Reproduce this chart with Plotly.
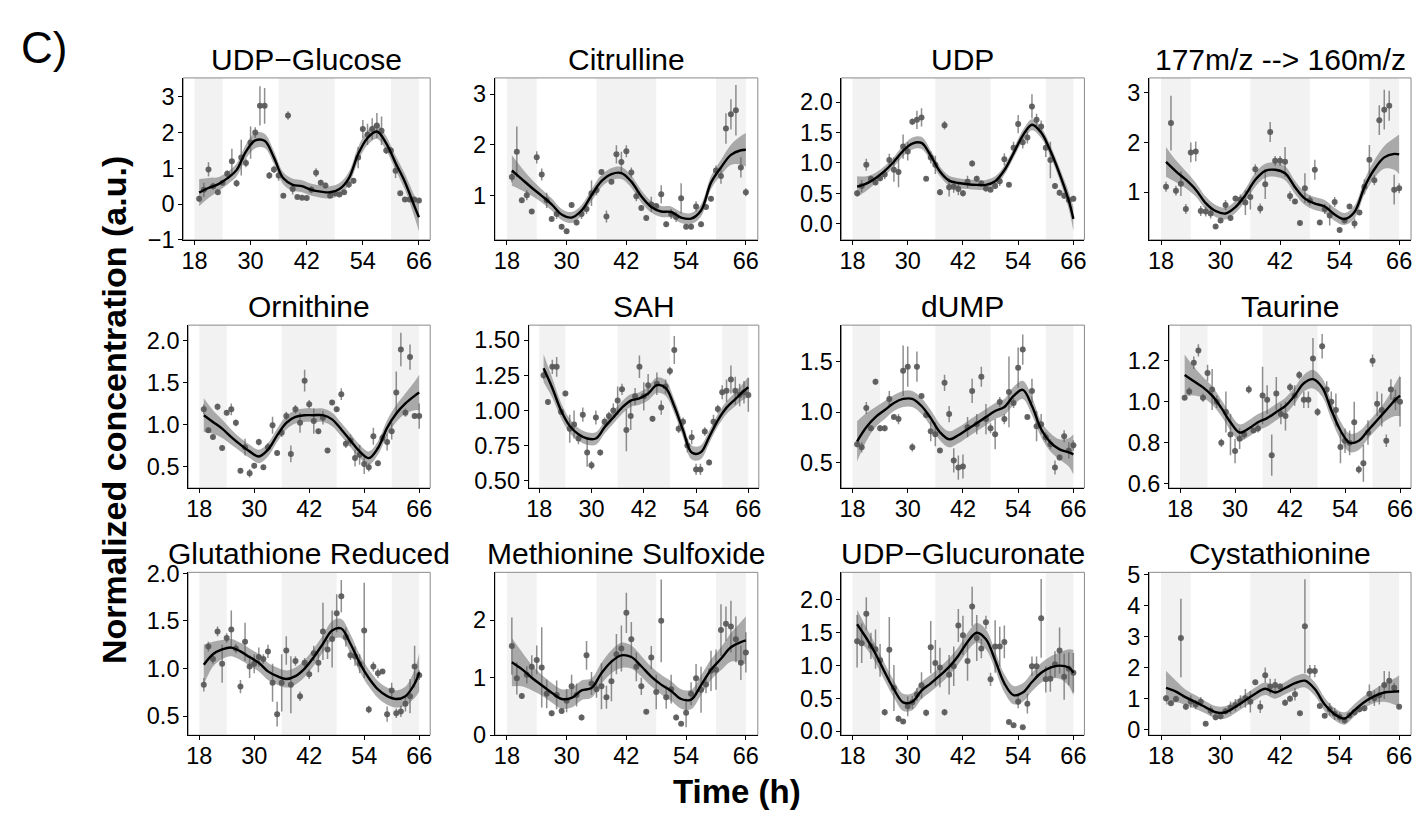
import plotly.graph_objects as go

FONT = "Liberation Sans"
W, H = 1425, 818

# ---------------- data ----------------
hours = list(range(19, 67))                      # sampling times (h)
fit_hours = list(range(19, 66, 2)) + [66]        # knots of the smooth fit
band_starts = [18, 36, 60]                       # shaded (dark-phase) bands
band_ends = [24, 48, 66]
x_tickvals = [18, 30, 42, 54, 66]
x_ticktext = ["18", "30", "42", "54", "66"]

titles = ["UDP−Glucose", "Citrulline", "UDP", "177m/z --> 160m/z",
          "Ornithine", "SAH", "dUMP", "Taurine",
          "Glutathione Reduced", "Methionine Sulfoxide", "UDP−Glucuronate", "Cystathionine"]

udp_glucose_mean = [0.15, 0.4, 0.97, 0.5, 0.33, 0.6, 0.85, 1.2, 0.58, 1.3, 1.15, 1.72, 2.0, 2.75, 2.75, 0.8,
                    0.97, 0.8, 0.23, 2.48, 0.42, 0.2, 0.18, 0.17, 0.4, 0.88, 0.6, 0.52, 0.23, 0.3, 0.27, 0.33,
                    0.55, 0.65, 1.3, 2.1, 1.95, 2.1, 2.2, 2.05, 1.5, 1.5, 0.93, 0.3, 0.13, 0.13, 0.13, 0.1]
udp_glucose_err = [0.08, 0.2, 0.2, 0.1, 0.07, 0.07, 0.1, 0.35, 0.1, 0.5, 0.12, 0.45, 0.15, 0.55, 0.5, 0.1,
                   0.1, 0.15, 0.05, 0.12, 0.15, 0.05, 0.05, 0.05, 0.1, 0.12, 0.08, 0.08, 0.05, 0.05, 0.05, 0.05,
                   0.1, 0.08, 0.3, 0.25, 0.3, 0.3, 0.35, 0.4, 0.1, 0.1, 0.2, 0.05, 0.05, 0.05, 0.05, 0.05]
udp_glucose_fit = [0.32, 0.45, 0.55, 0.72, 0.95, 1.47, 1.78, 1.77, 1.3, 0.72, 0.54, 0.5, 0.4, 0.35, 0.33,
                   0.42, 0.72, 1.4, 1.85, 2.03, 1.7, 1.15, 0.62, -0.05, -0.37]
udp_glucose_se = [0.38, 0.28, 0.2, 0.18, 0.18, 0.2, 0.22, 0.2, 0.18, 0.17, 0.17, 0.17, 0.17, 0.17, 0.17,
                  0.17, 0.18, 0.2, 0.2, 0.2, 0.2, 0.2, 0.22, 0.3, 0.4]

citrulline_mean = [1.36, 1.86, 0.9, 1.0, 0.68, 1.75, 1.41, 0.9, 0.53, 0.63, 0.38, 0.29, 0.81, 0.46, 0.63, 0.73,
                   1.04, 1.1, 1.46, 0.58, 1.27, 1.81, 1.66, 1.87, 1.45, 0.98, 0.75, 0.55, 0.82, 0.79, 1.02, 0.43,
                   0.63, 0.57, 0.94, 0.38, 0.38, 0.78, 0.43, 0.77, 0.93, 1.49, 1.38, 2.32, 2.6, 2.68, 1.55, 1.06]
citrulline_err = [0.1, 0.5, 0.05, 0.1, 0.05, 0.12, 0.12, 0.15, 0.05, 0.1, 0.05, 0.05, 0.05, 0.05, 0.1, 0.1,
                  0.25, 0.1, 0.05, 0.12, 0.05, 0.18, 0.2, 0.12, 0.1, 0.1, 0.05, 0.05, 0.15, 0.05, 0.18, 0.05,
                  0.1, 0.1, 0.3, 0.05, 0.05, 0.1, 0.05, 0.05, 0.05, 0.1, 0.15, 0.3, 0.3, 0.5, 0.2, 0.08]
citrulline_fit = [1.49, 1.32, 1.15, 0.99, 0.82, 0.62, 0.56, 0.7, 1.0, 1.28, 1.42, 1.44, 1.27, 0.98, 0.77,
                  0.68, 0.67, 0.56, 0.54, 0.7, 1.25, 1.55, 1.8, 1.89, 1.9]
citrulline_se = [0.3, 0.22, 0.16, 0.13, 0.12, 0.11, 0.11, 0.11, 0.12, 0.12, 0.12, 0.12, 0.12, 0.12, 0.11,
                 0.11, 0.11, 0.11, 0.11, 0.12, 0.13, 0.15, 0.2, 0.28, 0.33]

udp_mean = [0.5, 0.62, 0.97, 0.74, 0.68, 0.75, 0.81, 1.05, 0.89, 0.85, 1.27, 1.19, 1.68, 1.71, 1.75, 0.74,
            1.09, 0.97, 0.52, 1.62, 0.6, 0.61, 0.57, 0.5, 0.69, 0.99, 0.74, 0.66, 0.58, 0.56, 0.62, 0.7,
            1.06, 0.64, 1.25, 1.64, 1.34, 1.42, 1.93, 1.71, 1.6, 1.25, 1.05, 0.62, 0.51, 0.46, 0.39, 0.41]
udp_err = [0.05, 0.1, 0.1, 0.05, 0.04, 0.05, 0.08, 0.1, 0.2, 0.25, 0.2, 0.15, 0.05, 0.15, 0.15, 0.03,
           0.1, 0.15, 0.05, 0.07, 0.15, 0.1, 0.1, 0.05, 0.1, 0.05, 0.05, 0.05, 0.05, 0.03, 0.05, 0.08,
           0.1, 0.03, 0.1, 0.15, 0.1, 0.1, 0.2, 0.1, 0.1, 0.15, 0.3, 0.05, 0.05, 0.05, 0.05, 0.05]
udp_fit = [0.61, 0.66, 0.75, 0.87, 1.02, 1.2, 1.32, 1.33, 1.12, 0.86, 0.71, 0.67, 0.65, 0.64, 0.64,
           0.7, 0.88, 1.16, 1.45, 1.63, 1.5, 1.2, 0.82, 0.38, 0.08]
udp_se = [0.17, 0.12, 0.09, 0.08, 0.08, 0.09, 0.1, 0.1, 0.09, 0.08, 0.08, 0.08, 0.08, 0.08, 0.08,
          0.08, 0.08, 0.08, 0.09, 0.09, 0.09, 0.09, 0.1, 0.14, 0.2]

mz177_mean = [1.11, 2.39, 1.03, 1.17, 0.66, 1.8, 1.82, 0.62, 0.61, 0.57, 0.31, 0.43, 0.74, 0.48, 0.87, 0.85,
              0.79, 0.9, 1.46, 0.67, 1.16, 2.21, 1.63, 1.63, 1.61, 0.92, 0.81, 0.38, 1.08, 0.83, 1.45, 0.39,
              0.66, 0.53, 0.8, 0.24, 0.43, 0.71, 0.37, 0.59, 1.11, 1.65, 1.24, 2.45, 2.66, 2.74, 1.05, 1.08]
mz177_err = [0.1, 0.55, 0.1, 0.25, 0.1, 0.2, 0.2, 0.1, 0.1, 0.1, 0.05, 0.05, 0.1, 0.05, 0.05, 0.1,
             0.25, 0.25, 0.1, 0.1, 0.3, 0.2, 0.1, 0.1, 0.3, 0.1, 0.05, 0.05, 0.3, 0.1, 0.2, 0.05,
             0.1, 0.2, 0.1, 0.05, 0.05, 0.05, 0.1, 0.05, 0.15, 0.3, 0.1, 0.3, 0.4, 0.3, 0.3, 0.1]
mz177_fit = [1.61, 1.42, 1.25, 1.05, 0.78, 0.62, 0.57, 0.7, 0.94, 1.25, 1.43, 1.45, 1.38, 1.1, 0.87,
             0.77, 0.71, 0.55, 0.46, 0.6, 1.1, 1.46, 1.7, 1.77, 1.76]
mz177_se = [0.3, 0.22, 0.17, 0.14, 0.13, 0.12, 0.12, 0.12, 0.13, 0.14, 0.14, 0.14, 0.14, 0.13, 0.13,
            0.13, 0.13, 0.13, 0.12, 0.13, 0.15, 0.18, 0.23, 0.32, 0.4]

ornithine_mean = [1.18, 0.93, 0.85, 1.21, 0.72, 1.14, 1.18, 1.02, 0.45, 0.73, 0.42, 0.51, 0.79, 0.49, 0.73, 0.99,
                  0.66, 0.9, 1.1, 0.65, 1.18, 1.02, 1.52, 1.24, 1.04, 0.92, 1.08, 0.69, 1.26, 1.18, 1.36, 0.77,
                  0.81, 0.6, 0.64, 0.53, 0.49, 0.86, 0.54, 0.84, 0.79, 0.92, 1.38, 1.89, 1.14, 1.8, 1.1, 1.1]
ornithine_err = [0.06, 0.03, 0.03, 0.04, 0.03, 0.03, 0.07, 0.04, 0.03, 0.1, 0.05, 0.03, 0.04, 0.03, 0.05, 0.1,
                 0.03, 0.05, 0.05, 0.1, 0.05, 0.12, 0.13, 0.05, 0.15, 0.03, 0.08, 0.03, 0.03, 0.03, 0.07, 0.05,
                 0.07, 0.1, 0.12, 0.12, 0.05, 0.1, 0.03, 0.05, 0.1, 0.1, 0.25, 0.2, 0.05, 0.15, 0.03, 0.15]
ornithine_fit = [1.11, 1.03, 0.95, 0.85, 0.76, 0.68, 0.62, 0.7, 0.87, 1.02, 1.09, 1.11, 1.11, 1.11, 1.06,
                 0.94, 0.81, 0.68, 0.6, 0.72, 0.96, 1.13, 1.25, 1.34, 1.38]
ornithine_se = [0.2, 0.14, 0.11, 0.09, 0.08, 0.08, 0.08, 0.08, 0.08, 0.08, 0.08, 0.08, 0.08, 0.08, 0.08,
                0.08, 0.08, 0.08, 0.08, 0.08, 0.09, 0.1, 0.12, 0.17, 0.21]

sah_mean = [1.25, 1.06, 1.31, 1.31, 0.99, 1.12, 0.87, 0.9, 0.8, 0.97, 0.7, 0.61, 0.95, 0.7, 0.92, 0.96,
            1.0, 1.07, 1.15, 0.86, 0.96, 1.1, 1.31, 1.1, 1.18, 0.94, 1.19, 1.02, 1.17, 1.28, 1.43, 0.87,
            0.92, 0.75, 0.81, 0.58, 0.58, 0.85, 0.63, 0.92, 1.01, 1.13, 1.14, 1.22, 1.14, 1.11, 1.13, 1.11]
sah_err = [0.03, 0.02, 0.05, 0.07, 0.02, 0.02, 0.1, 0.1, 0.04, 0.05, 0.1, 0.03, 0.05, 0.02, 0.03, 0.03,
           0.05, 0.1, 0.04, 0.15, 0.1, 0.06, 0.08, 0.1, 0.08, 0.02, 0.08, 0.05, 0.05, 0.03, 0.1, 0.03,
           0.03, 0.05, 0.05, 0.04, 0.04, 0.03, 0.02, 0.05, 0.03, 0.05, 0.08, 0.1, 0.1, 0.08, 0.08, 0.12]
sah_fit = [1.3, 1.16, 1.0, 0.89, 0.83, 0.8, 0.8, 0.88, 0.95, 1.02, 1.07, 1.085, 1.12, 1.18, 1.16,
           1.03, 0.86, 0.7, 0.7, 0.81, 0.93, 1.02, 1.08, 1.14, 1.165]
sah_se = [0.1, 0.07, 0.055, 0.05, 0.045, 0.045, 0.045, 0.045, 0.045, 0.045, 0.045, 0.045, 0.05, 0.055, 0.055,
          0.05, 0.05, 0.05, 0.05, 0.045, 0.045, 0.045, 0.05, 0.06, 0.075]

dump_mean = [0.68, 0.65, 1.04, 0.84, 1.3, 0.84, 0.84, 1.13, 0.95, 0.93, 1.41, 1.45, 0.65, 1.45, 1.16, 0.97,
             0.81, 0.78, 0.62, 1.29, 0.98, 0.52, 0.45, 0.46, 0.85, 1.21, 0.88, 1.35, 0.93, 0.84, 0.78, 1.1,
             0.93, 1.2, 1.09, 1.44, 1.62, 0.95, 1.21, 0.86, 0.88, 0.75, 0.68, 0.45, 0.55, 0.76, 0.62, 0.67]
dump_err = [0.03, 0.05, 0.06, 0.03, 0.03, 0.03, 0.03, 0.08, 0.02, 0.05, 0.25, 0.2, 0.04, 0.15, 0.02, 0.03,
            0.1, 0.12, 0.02, 0.08, 0.08, 0.12, 0.12, 0.12, 0.1, 0.12, 0.1, 0.1, 0.15, 0.05, 0.15, 0.05,
            0.05, 0.35, 0.05, 0.2, 0.15, 0.02, 0.12, 0.15, 0.1, 0.05, 0.05, 0.07, 0.03, 0.06, 0.08, 0.05]
dump_fit = [0.71, 0.85, 0.95, 1.02, 1.09, 1.13, 1.13, 1.06, 0.94, 0.8, 0.73, 0.77, 0.83, 0.89, 0.95,
            1.01, 1.05, 1.16, 1.22, 1.06, 0.83, 0.7, 0.63, 0.6, 0.58]
dump_se = [0.2, 0.14, 0.1, 0.09, 0.08, 0.08, 0.08, 0.08, 0.08, 0.08, 0.08, 0.08, 0.08, 0.08, 0.08,
           0.08, 0.08, 0.09, 0.09, 0.09, 0.08, 0.09, 0.1, 0.14, 0.2]

taurine_mean = [1.02, 1.05, 1.19, 1.25, 1.02, 1.14, 1.06, 1.0, 0.8, 0.95, 0.84, 0.76, 0.82, 0.84, 1.06, 0.86,
                0.87, 1.03, 1.01, 0.74, 1.04, 0.94, 0.93, 1.07, 1.03, 1.13, 1.01, 1.01, 1.21, 0.95, 1.27, 1.06,
                1.0, 0.96, 0.78, 0.81, 0.8, 0.9, 0.67, 0.7, 0.85, 1.2, 0.99, 0.96, 0.81, 1.06, 1.01, 1.0]
taurine_err = [0.01, 0.02, 0.03, 0.03, 0.02, 0.04, 0.1, 0.03, 0.02, 0.1, 0.1, 0.06, 0.05, 0.02, 0.02, 0.01,
               0.02, 0.14, 0.07, 0.1, 0.08, 0.05, 0.07, 0.02, 0.05, 0.02, 0.04, 0.04, 0.1, 0.02, 0.06, 0.04,
               0.05, 0.08, 0.08, 0.06, 0.06, 0.1, 0.02, 0.09, 0.06, 0.03, 0.06, 0.08, 0.03, 0.05, 0.05, 0.12]
taurine_fit = [1.13, 1.1, 1.07, 1.03, 0.97, 0.9, 0.85, 0.87, 0.9, 0.92, 0.95, 0.98, 1.03, 1.09, 1.11,
               1.07, 0.96, 0.86, 0.8, 0.81, 0.86, 0.91, 0.96, 1.01, 1.03]
taurine_se = [0.1, 0.07, 0.05, 0.045, 0.04, 0.04, 0.04, 0.04, 0.04, 0.04, 0.04, 0.04, 0.04, 0.04, 0.045,
              0.045, 0.045, 0.045, 0.045, 0.045, 0.04, 0.04, 0.05, 0.08, 0.1]

glutathione_mean = [0.83, 1.23, 1.1, 1.39, 1.05, 1.32, 1.41, 1.21, 0.81, 1.28, 1.02, 1.05, 1.12, 1.1, 1.18, 0.85,
                    0.52, 0.85, 1.19, 0.83, 1.08, 0.71, 1.06, 0.94, 1.16, 1.06, 1.39, 1.2, 1.31, 1.58, 1.76, 1.33,
                    1.14, 1.13, 1.05, 1.4, 0.57, 1.02, 0.95, 0.97, 0.52, 0.77, 0.53, 0.55, 0.63, 0.71, 1.02, 0.93]
glutathione_err = [0.07, 0.05, 0.05, 0.05, 0.2, 0.05, 0.2, 0.05, 0.07, 0.2, 0.12, 0.1, 0.1, 0.05, 0.07, 0.2,
                   0.13, 0.3, 0.15, 0.3, 0.05, 0.05, 0.05, 0.05, 0.08, 0.1, 0.3, 0.1, 0.3, 0.2, 0.17, 0.1,
                   0.05, 0.1, 0.1, 0.5, 0.04, 0.05, 0.05, 0.02, 0.08, 0.08, 0.05, 0.06, 0.08, 0.18, 0.22, 0.05]
glutathione_fit = [1.04, 1.15, 1.2, 1.22, 1.18, 1.12, 1.06, 0.97, 0.92, 0.89, 0.92, 1.0, 1.12, 1.26, 1.4,
                   1.42, 1.26, 1.06, 0.9, 0.78, 0.71, 0.68, 0.71, 0.84, 0.96]
glutathione_se = [0.21, 0.13, 0.1, 0.09, 0.09, 0.09, 0.09, 0.09, 0.09, 0.09, 0.09, 0.09, 0.09, 0.09, 0.1,
                  0.1, 0.1, 0.09, 0.09, 0.09, 0.09, 0.09, 0.1, 0.15, 0.2]

metsulfox_mean = [1.55, 0.99, 0.68, 1.05, 1.19, 1.31, 1.18, 0.72, 0.38, 0.7, 0.42, 0.6, 0.85, 0.7, 0.31, 1.39,
                  0.9, 0.8, 0.85, 0.66, 0.94, 1.41, 1.51, 2.13, 1.67, 1.19, 0.85, 0.41, 1.35, 0.75, 1.99, 0.66,
                  0.8, 0.31, 0.2, 0.39, 0.72, 0.99, 0.79, 0.88, 1.12, 1.14, 1.83, 1.94, 1.89, 1.67, 1.26, 1.44]
metsulfox_err = [0.5, 0.28, 0.05, 0.15, 0.2, 0.25, 0.7, 0.25, 0.05, 0.25, 0.05, 0.2, 0.2, 0.2, 0.05, 0.25,
                 0.2, 0.15, 0.4, 0.2, 0.35, 0.35, 0.4, 0.35, 0.3, 0.25, 0.15, 0.03, 0.2, 0.3, 0.72, 0.2,
                 0.25, 0.05, 0.02, 0.25, 0.2, 0.25, 0.4, 0.15, 0.35, 0.35, 0.45, 0.3, 0.45, 0.4, 0.3, 0.35]
metsulfox_fit = [1.27, 1.15, 1.0, 0.87, 0.74, 0.63, 0.65, 0.78, 0.82, 1.08, 1.28, 1.39, 1.36, 1.2, 1.02,
                 0.88, 0.77, 0.63, 0.62, 0.87, 1.14, 1.33, 1.53, 1.62, 1.65]
metsulfox_se = [0.42, 0.3, 0.22, 0.18, 0.17, 0.17, 0.17, 0.17, 0.17, 0.18, 0.2, 0.22, 0.2, 0.18, 0.17,
                0.17, 0.17, 0.17, 0.17, 0.17, 0.18, 0.2, 0.25, 0.35, 0.42]

udp_glucuronate_mean = [1.37, 1.34, 1.79, 1.3, 1.25, 1.08, 0.29, 1.24, 0.66, 0.19, 0.15, 0.38, 0.44, 0.56, 0.7, 0.28,
                        1.28, 1.04, 0.97, 0.29, 0.86, 0.99, 1.61, 1.46, 1.07, 1.9, 1.42, 1.26, 1.66, 0.79, 1.29, 1.29,
                        1.36, 0.14, 0.09, 0.45, 0.06, 0.42, 0.99, 0.99, 1.72, 0.79, 0.8, 1.02, 1.23, 0.83, 0.95, 0.89]
udp_glucuronate_err = [0.4, 0.3, 0.25, 0.2, 0.3, 0.25, 0.05, 0.5, 0.35, 0.05, 0.03, 0.15, 0.1, 0.1, 0.2, 0.05,
                       0.4, 0.35, 0.3, 0.05, 0.3, 0.3, 0.25, 0.3, 0.3, 0.3, 0.35, 0.15, 0.1, 0.1, 0.4, 0.3,
                       0.25, 0.02, 0.02, 0.1, 0.02, 0.15, 0.15, 0.15, 0.6, 0.2, 0.2, 0.2, 0.35, 0.35, 0.25, 0.3]
udp_glucuronate_fit = [1.63, 1.42, 1.18, 0.9, 0.64, 0.44, 0.45, 0.62, 0.73, 0.85, 0.98, 1.15, 1.36, 1.5, 1.4,
                       1.08, 0.73, 0.55, 0.59, 0.75, 0.89, 0.97, 1.0, 0.97, 0.89]
udp_glucuronate_se = [0.22, 0.16, 0.14, 0.13, 0.13, 0.13, 0.13, 0.13, 0.13, 0.13, 0.13, 0.13, 0.14, 0.15, 0.15,
                      0.14, 0.14, 0.14, 0.14, 0.14, 0.15, 0.17, 0.2, 0.28, 0.35]

cystathionine_mean = [1.0, 0.84, 0.98, 2.95, 0.73, 0.9, 0.8, 0.89, 0.18, 0.6, 0.39, 0.42, 0.58, 0.7, 0.78, 0.9,
                      1.0, 0.89, 1.52, 0.73, 1.75, 1.38, 1.43, 1.38, 0.86, 0.99, 1.13, 0.52, 3.33, 1.88, 1.88, 0.75,
                      0.44, 0.65, 0.5, 0.4, 0.29, 0.45, 0.55, 0.65, 0.68, 1.15, 1.0, 1.1, 1.43, 1.57, 1.34, 0.73]
cystathionine_err = [0.1, 0.05, 0.1, 1.27, 0.1, 0.2, 0.15, 0.15, 0.05, 0.15, 0.1, 0.1, 0.1, 0.2, 0.2, 0.2,
                     0.3, 0.35, 0.05, 0.2, 0.25, 0.25, 0.2, 0.1, 0.1, 0.1, 0.2, 0.05, 1.52, 0.2, 0.2, 0.05,
                     0.05, 0.2, 0.2, 0.15, 0.1, 0.1, 0.1, 0.1, 0.1, 0.3, 0.25, 0.3, 0.45, 0.3, 0.15, 0.05]
cystathionine_fit = [1.34, 1.22, 1.03, 0.88, 0.71, 0.55, 0.55, 0.73, 0.94, 1.15, 1.31, 1.19, 1.33, 1.49, 1.57,
                     1.3, 0.8, 0.49, 0.35, 0.62, 0.88, 1.07, 1.19, 1.22, 1.23]
cystathionine_se = [0.55, 0.35, 0.25, 0.22, 0.2, 0.2, 0.2, 0.2, 0.2, 0.2, 0.2, 0.2, 0.2, 0.22, 0.22,
                    0.22, 0.22, 0.2, 0.2, 0.2, 0.2, 0.22, 0.3, 0.42, 0.52]

y_tickvals = [[-1, 0, 1, 2, 3], [1, 2, 3], [0, 0.5, 1, 1.5, 2], [1, 2, 3],
              [0.5, 1, 1.5, 2], [0.5, 0.75, 1, 1.25, 1.5], [0.5, 1, 1.5], [0.6, 0.8, 1.0, 1.2],
              [0.5, 1, 1.5, 2], [0, 1, 2], [0, 0.5, 1, 1.5, 2], [0, 1, 2, 3, 4, 5]]
y_ticktext = [["−1", "0", "1", "2", "3"], ["1", "2", "3"], ["0.0", "0.5", "1.0", "1.5", "2.0"], ["1", "2", "3"],
              ["0.5", "1.0", "1.5", "2.0"], ["0.50", "0.75", "1.00", "1.25", "1.50"], ["0.5", "1.0", "1.5"],
              ["0.6", "0.8", "1.0", "1.2"],
              ["0.5", "1.0", "1.5", "2.0"], ["0", "1", "2"], ["0.0", "0.5", "1.0", "1.5", "2.0"],
              ["0", "1", "2", "3", "4", "5"]]

means = [udp_glucose_mean, citrulline_mean, udp_mean, mz177_mean, ornithine_mean, sah_mean, dump_mean,
         taurine_mean, glutathione_mean, metsulfox_mean, udp_glucuronate_mean, cystathionine_mean]
errs = [udp_glucose_err, citrulline_err, udp_err, mz177_err, ornithine_err, sah_err, dump_err,
        taurine_err, glutathione_err, metsulfox_err, udp_glucuronate_err, cystathionine_err]
fits = [udp_glucose_fit, citrulline_fit, udp_fit, mz177_fit, ornithine_fit, sah_fit, dump_fit,
        taurine_fit, glutathione_fit, metsulfox_fit, udp_glucuronate_fit, cystathionine_fit]
ses = [udp_glucose_se, citrulline_se, udp_se, mz177_se, ornithine_se, sah_se, dump_se,
       taurine_se, glutathione_se, metsulfox_se, udp_glucuronate_se, cystathionine_se]

for i in range(12):
    assert len(means[i]) == len(hours), (i, "mean", len(means[i]))
    assert len(errs[i]) == len(hours), (i, "err", len(errs[i]))
    assert len(fits[i]) == len(fit_hours), (i, "fit", len(fits[i]))
    assert len(ses[i]) == len(fit_hours), (i, "se", len(ses[i]))

# ---------------- layout geometry (pixels) ----------------
x_range = [15.6, 68.4]
y_ranges = [[-1.0, 3.53], [0.12, 3.32], [-0.265, 2.4], [0.04, 3.30],
            [0.245, 2.18], [0.448, 1.607], [0.247, 1.862], [0.58, 1.373],
            [0.30, 2.01], [0.0, 2.834], [-0.06, 2.42], [-0.19, 5.07]]
boxes = [(181, 429, 68, 235), (494, 758, 68, 235), (842, 1086, 68, 235), (1151, 1414, 68, 235),
         (186, 429, 323, 491), (528, 759, 323, 491), (842, 1086, 323, 491), (1171, 1414, 323, 491),
         (186, 429, 578, 746), (494, 758, 578, 746), (842, 1086, 578, 746), (1151, 1414, 578, 746)]

base_axis = dict(showgrid=False, zeroline=False, ticks="outside", ticklen=4, tickwidth=1.1,
                 tickcolor="black", showline=True, linecolor="black", linewidth=1.1,
                 tickfont=dict(family=FONT, size=23.5, color="black"), fixedrange=True)

fig = go.Figure()
shapes, annotations, layout_axes = [], [], {}

for i in range(12):
    n = i + 1
    xa = "x" if n == 1 else f"x{n}"
    ya = "y" if n == 1 else f"y{n}"
    xkey = "xaxis" if n == 1 else f"xaxis{n}"
    ykey = "yaxis" if n == 1 else f"yaxis{n}"
    x0, x1, top, bot = boxes[i]
    layout_axes[xkey] = dict(domain=[x0 / W, x1 / W], anchor=ya, range=x_range, ticklabelstandoff=-4,
                             tickmode="array", tickvals=x_tickvals, ticktext=x_ticktext, **base_axis)
    layout_axes[ykey] = dict(domain=[1 - bot / H, 1 - top / H], anchor=xa, range=y_ranges[i],
                             ticklabelstandoff=-1,
                             tickmode="array", tickvals=y_tickvals[i], ticktext=y_ticktext[i], **base_axis)
    for s, e in zip(band_starts, band_ends):
        shapes.append(dict(type="rect", xref=xa, yref=f"{ya} domain", x0=s, x1=e, y0=0, y1=1,
                           fillcolor="#f2f2f2", line=dict(width=0), layer="below"))
    shapes.append(dict(type="rect", xref=f"{xa} domain", yref=f"{ya} domain", x0=0, x1=1, y0=0, y1=1,
                       fillcolor="rgba(0,0,0,0)", line=dict(color="#8a8a8a", width=1), layer="below"))

    lo = [f - s for f, s in zip(fits[i], ses[i])]
    hi = [f + s for f, s in zip(fits[i], ses[i])]
    fig.add_trace(go.Scatter(x=fit_hours, y=lo, mode="lines", line=dict(width=0, shape="spline"),
                             xaxis=xa, yaxis=ya, showlegend=False, hoverinfo="skip"))
    fig.add_trace(go.Scatter(x=fit_hours, y=hi, mode="lines", line=dict(width=0, shape="spline"),
                             fill="tonexty", fillcolor="rgba(125,125,125,0.62)",
                             xaxis=xa, yaxis=ya, showlegend=False, hoverinfo="skip"))
    fig.add_trace(go.Scatter(x=hours, y=means[i], mode="markers",
                             marker=dict(size=6, color="rgba(85,85,85,0.9)", line=dict(width=0)),
                             error_y=dict(type="data", array=errs[i], visible=True, width=0,
                                          thickness=1.5, color="rgba(95,95,95,0.7)"),
                             xaxis=xa, yaxis=ya, showlegend=False))
    fig.add_trace(go.Scatter(x=fit_hours, y=fits[i], mode="lines",
                             line=dict(color="black", width=2.4, shape="spline", smoothing=1.0),
                             xaxis=xa, yaxis=ya, showlegend=False))

    annotations.append(dict(text=titles[i], x=(x0 + x1) / 2 / W, y=1 - top / H, xref="paper", yref="paper",
                            xanchor="center", yanchor="bottom", showarrow=False,
                            font=dict(family=FONT, size=30, color="black")))

annotations.append(dict(text="C)", x=16 / W, y=1 - 37 / H, xref="paper", yref="paper",
                        xanchor="left", yanchor="middle", showarrow=False,
                        font=dict(family=FONT, size=44, color="black")))
annotations.append(dict(text="<b>Normalized concentration (a.u.)</b>", x=112 / W, y=1 - 411 / H,
                        xref="paper", yref="paper", xanchor="center", yanchor="middle", textangle=-90,
                        showarrow=False, font=dict(family=FONT, size=34, color="black")))
annotations.append(dict(text="<b>Time (h)</b>", x=737 / W, y=1 - 804 / H, xref="paper", yref="paper",
                        xanchor="center", yanchor="middle", showarrow=False,
                        font=dict(family=FONT, size=33, color="black")))

fig.update_layout(width=W, height=H, margin=dict(l=0, r=0, t=0, b=0),
                  paper_bgcolor="white", plot_bgcolor="white",
                  shapes=shapes, annotations=annotations, showlegend=False, **layout_axes)

fig.write_html("out.html", post_script="document.body.style.margin='0';")
